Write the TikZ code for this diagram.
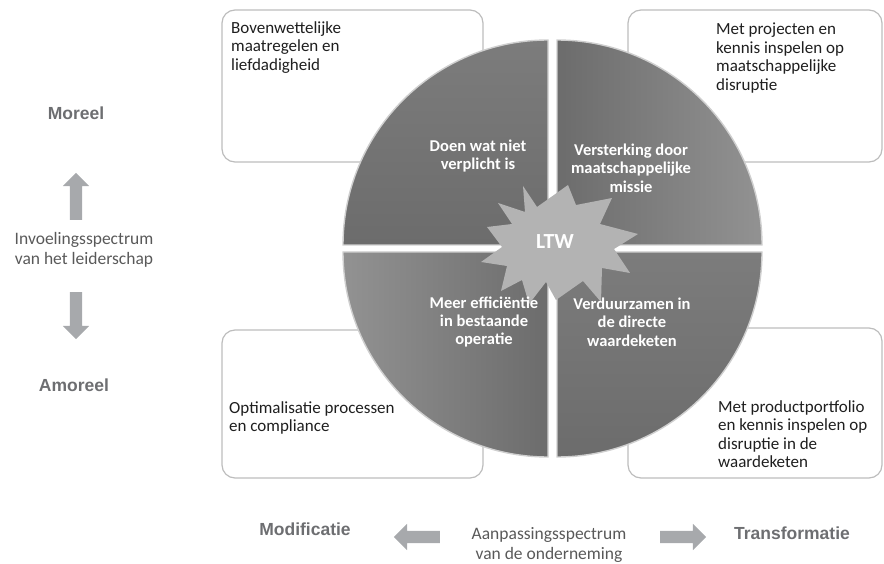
\documentclass[tikz,border=0pt]{standalone}
\usepackage{fontspec}
\setmainfont{Carlito}
\newfontfamily\headfont{Liberation Sans}
\usetikzlibrary{shapes, arrows, positioning, backgrounds}

\definecolor{rim}{HTML}{BDBDBD}
\definecolor{bevel}{HTML}{CFCFCF}
\definecolor{qlight}{HTML}{929292}
\definecolor{qmid}{HTML}{7C7C7C}
\definecolor{qdark}{HTML}{6C6C6C}
\definecolor{burst}{HTML}{B3B3B3}
\definecolor{poletext}{HTML}{6D6E71}
\definecolor{spec}{HTML}{595959}
\definecolor{fat}{HTML}{A7A9AC}

\begin{document}
\begin{tikzpicture}[x=1pt, y=-1pt,
    box/.style={draw=rim, line width=1.2pt, rounded corners=13pt, fill=white},
    boxtext/.style={anchor=north west, inner sep=0pt, align=left, text=black!88,
      font=\fontsize{17}{18.5}\selectfont},
    slice/.style={draw=bevel, line width=1.4pt},
    slicetext/.style={text=white, align=center, inner sep=0pt,
      font=\bfseries\fontsize{16.5}{18.3}\selectfont},
    pole/.style={text=poletext, font=\headfont\bfseries\fontsize{17.5}{20}\selectfont},
    spectrum/.style={text=spec, align=center, font=\fontsize{17.5}{20.5}\selectfont},
    fatarrow/.style={single arrow, fill=fat, inner sep=6pt,
      minimum height=47pt, single arrow head extend=7pt}]
  \useasboundingbox (0,0) rectangle (884,564);

  % kaders achter de cirkel
  \draw[box] (222,10) rectangle (483,162);
  \draw[box] (628,10) rectangle (882,162);
  \draw[box] (222,330) rectangle (483,478);
  \draw[box] (628,328) rectangle (882,478);

  % vier kwadranten
  \coordinate (tl) at (548,245);
  \coordinate (tr) at (557,245);
  \coordinate (bl) at (548,252);
  \coordinate (br) at (557,252);
  \path[slice, top color=qmid, bottom color=qdark]
    (tl) -- ++(-205,0) arc[start angle=180, end angle=270, radius=205] -- cycle;
  \path[slice, left color=qdark, right color=qlight]
    (tr) -- ++(0,-205) arc[start angle=270, end angle=360, radius=205] -- cycle;
  \path[slice, left color=qlight, right color=qdark]
    (bl) -- ++(0,205) arc[start angle=90, end angle=180, radius=205] -- cycle;
  \path[slice, top color=qmid, bottom color=qdark]
    (br) -- ++(205,0) arc[start angle=0, end angle=90, radius=205] -- cycle;

  % ster in het midden
  \coordinate (core) at (555,242);
  \fill[burst, shift={(core)}] (-32,-56) -- (-18,-35) -- (13,-57) -- (21,-37)
    -- (57,-44) -- (45,-18) -- (83,-8) -- (59,7) -- (75,31) -- (47,26)
    -- (46,60) -- (28,39) -- (1,58) -- (-9,40) -- (-26,62) -- (-33,38)
    -- (-54,49) -- (-48,24) -- (-74,20) -- (-53,5) -- (-68,-15) -- (-43,-18)
    -- (-57,-39) -- (-30,-30) -- cycle;
  \node[text=white, font=\bfseries\fontsize{21.5}{24}\selectfont] (ltw) at (core) {LTW};

  \node[slicetext] (doen) at (478,156) {Doen wat niet\\verplicht is};
  \node[slicetext] (versterking) at (631,168) {Versterking door\\maatschappelijke\\missie};
  \node[slicetext] (efficientie) at (484,322) {Meer efficiëntie\\in bestaande\\operatie};
  \node[slicetext] (verduurzamen) at (632,322) {Verduurzamen in\\de directe\\waardeketen};

  \node[boxtext] (bovenwettelijk) at (231,21) {Bovenwettelijke\\maatregelen en\\liefdadigheid};
  \node[boxtext] (projecten) at (716,23) {Met projecten en\\kennis inspelen op\\maatschappelijke\\disruptie};
  \node[boxtext] (optimalisatie) at (229,401) {Optimalisatie processen\\en compliance};
  \node[boxtext] (portfolio) at (718,400) {Met productportfolio\\en kennis inspelen op\\disruptie in de\\waardeketen};

  % verticale as
  \node[pole] (moreel) at (76,113) {Moreel};
  \node[pole] (amoreel) at (74,385) {Amoreel};
  \node[spectrum] (invoeling) at (84,250) {Invoelingsspectrum\\van het leiderschap};
  \node[fatarrow, shape border rotate=90] (omhoog) at (76,199.5) {};
  \node[fatarrow, shape border rotate=270] (omlaag) at (76,312.5) {};

  % horizontale as
  \node[pole] (modificatie) at (305,529) {Modificatie};
  \node[pole] (transformatie) at (792,533) {Transformatie};
  \node[spectrum] (aanpassing) at (549,545) {Aanpassingsspectrum\\van de onderneming};
  \node[fatarrow, shape border rotate=180, minimum height=46pt] (links) at (420,537) {};
  \node[fatarrow, minimum height=46pt] (rechts) at (680,537) {};
\end{tikzpicture}
\end{document}
